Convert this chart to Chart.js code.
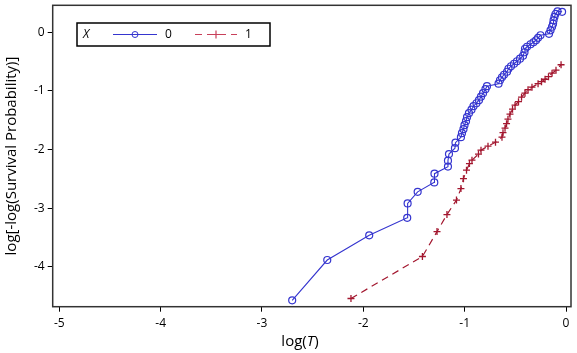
<!DOCTYPE html>
<html><head><meta charset="utf-8">
<script src="https://cdn.jsdelivr.net/npm/chart.js@4/dist/chart.umd.min.js"></script>
<style>html,body{margin:0;padding:0;background:#fff}#wrap{width:577px;height:353px}</style>
</head><body><div id="wrap"><canvas id="c" width="577" height="353"></canvas></div>
<script>
const legendTitle = 'X';
const seriesLabels = ['0', '1'];
const xTicks = [-5, -4, -3, -2, -1, 0];
const yTicks = [-4, -3, -2, -1, 0];
const yTitle = 'log[-log(Survival Probability)]';

const group0LogT = [-2.702,-2.356,-1.942,-1.567,-1.563,-1.464,-1.300,-1.298,-1.165,-1.165,-1.155,-1.096,-1.091,-1.037,-1.027,-1.012,-1.002,-0.987,-0.977,-0.958,-0.933,-0.913,-0.884,-0.859,-0.839,-0.819,-0.795,-0.780,-0.666,-0.652,-0.632,-0.612,-0.582,-0.568,-0.543,-0.513,-0.484,-0.454,-0.424,-0.410,-0.405,-0.385,-0.350,-0.321,-0.296,-0.276,-0.252,-0.168,-0.153,-0.138,-0.128,-0.123,-0.114,-0.104,-0.084,-0.039];
const group0LogLogS = [-4.571,-3.884,-3.463,-3.164,-2.918,-2.721,-2.560,-2.411,-2.291,-2.189,-2.078,-1.976,-1.882,-1.789,-1.721,-1.652,-1.584,-1.516,-1.448,-1.380,-1.320,-1.261,-1.210,-1.158,-1.099,-1.039,-0.971,-0.920,-0.877,-0.818,-0.767,-0.724,-0.673,-0.622,-0.579,-0.537,-0.494,-0.451,-0.400,-0.341,-0.281,-0.247,-0.204,-0.170,-0.136,-0.094,-0.051,-0.026,0.034,0.094,0.145,0.204,0.264,0.315,0.358,0.349];

const group1LogT = [-2.122,-1.417,-1.273,-1.175,-1.081,-1.037,-1.012,-0.982,-0.953,-0.928,-0.864,-0.839,-0.770,-0.696,-0.632,-0.622,-0.602,-0.587,-0.573,-0.553,-0.528,-0.503,-0.469,-0.439,-0.405,-0.375,-0.336,-0.276,-0.242,-0.207,-0.173,-0.138,-0.099,-0.049];
const group1LogLogS = [-4.540,-3.824,-3.399,-3.109,-2.862,-2.666,-2.496,-2.351,-2.240,-2.181,-2.078,-2.010,-1.942,-1.874,-1.789,-1.712,-1.635,-1.559,-1.482,-1.397,-1.312,-1.244,-1.184,-1.107,-1.039,-0.980,-0.937,-0.877,-0.843,-0.801,-0.758,-0.698,-0.647,-0.554];

const BLUE = '#3535cf';
const RED = '#a3172f';
const FONT = '"Open Sans", "Liberation Sans", sans-serif';

function pts(xs, ys) { return xs.map((x, i) => ({x: x, y: ys[i]})); }

const framePlugin = {
  id: 'frame',
  afterDatasetsDraw(chart) {
    const a = chart.chartArea, ctx = chart.ctx;
    ctx.save();
    ctx.strokeStyle = '#333';
    ctx.lineWidth = 1.5;
    ctx.strokeRect(a.left, a.top, a.right - a.left, a.bottom - a.top);
    ctx.restore();
  }
};

const legendPlugin = {
  id: 'customLegend',
  afterDraw(chart) {
    const ctx = chart.ctx;
    const ds = chart.data.datasets;
    const y = 34.5;
    ctx.save();
    ctx.fillStyle = '#fff';
    ctx.fillRect(77, 23, 193, 23);
    ctx.strokeStyle = '#000';
    ctx.lineWidth = 1.5;
    ctx.strokeRect(77, 23, 193, 23);
    ctx.fillStyle = '#000';
    ctx.textBaseline = 'middle';
    ctx.font = 'italic 12px ' + FONT;
    ctx.fillText(legendTitle, 83, y + 0.5);
    ctx.strokeStyle = ds[0].borderColor; ctx.lineWidth = 1;
    ctx.beginPath(); ctx.moveTo(113, y); ctx.lineTo(157, y); ctx.stroke();
    ctx.beginPath(); ctx.arc(135, y, 3, 0, Math.PI * 2); ctx.stroke();
    ctx.font = '12px ' + FONT; ctx.fillStyle = '#000';
    ctx.fillText(ds[0].label, 165, y + 0.5);
    ctx.strokeStyle = '#c8405a'; ctx.lineWidth = 1.2;
    ctx.setLineDash([7, 5]);
    ctx.beginPath(); ctx.moveTo(195, y); ctx.lineTo(237, y); ctx.stroke();
    ctx.setLineDash([]);
    ctx.beginPath(); ctx.moveTo(212, y); ctx.lineTo(220, y); ctx.moveTo(216, y - 4); ctx.lineTo(216, y + 4); ctx.stroke();
    ctx.fillText(ds[1].label, 245, y + 0.5);
    ctx.restore();
  }
};

const xTitlePlugin = {
  id: 'xTitle',
  afterDraw(chart) {
    const ctx = chart.ctx;
    const parts = [['log(', ''], ['T', 'italic '], [')', '']];
    ctx.save();
    ctx.fillStyle = '#000';
    ctx.textBaseline = 'middle';
    let w = 0;
    parts.forEach(p => { ctx.font = p[1] + '15px ' + FONT; w += ctx.measureText(p[0]).width; });
    let x = 300 - w / 2;
    parts.forEach(p => { ctx.font = p[1] + '15px ' + FONT; ctx.fillText(p[0], x, 342); x += ctx.measureText(p[0]).width; });
    ctx.restore();
  }
};

new Chart(document.getElementById('c'), {
  type: 'scatter',
  data: {
    datasets: [
      {
        label: seriesLabels[0],
        data: pts(group0LogT, group0LogLogS),
        showLine: true,
        borderColor: BLUE,
        backgroundColor: 'rgba(0,0,0,0)',
        borderWidth: 1.1,
        pointStyle: 'circle',
        pointRadius: 3.5,
        pointBorderWidth: 1.2,
        pointBorderColor: BLUE,
        pointBackgroundColor: 'rgba(0,0,0,0)'
      },
      {
        label: seriesLabels[1],
        data: pts(group1LogT, group1LogLogS),
        showLine: true,
        borderColor: RED,
        backgroundColor: RED,
        borderWidth: 1.2,
        borderDash: [7, 5],
        pointStyle: 'cross',
        pointRadius: 3.5,
        pointBorderWidth: 1.3,
        pointBorderColor: RED
      }
    ]
  },
  options: {
    responsive: false,
    animation: false,
    devicePixelRatio: 1,
    layout: { padding: { left: 0, top: 5, right: 6, bottom: 0 } },
    plugins: { legend: { display: false }, tooltip: { enabled: false } },
    scales: {
      x: {
        type: 'linear',
        min: -5.065,
        max: 0.049,
        afterFit: s => { s.height = 46.3; s.paddingLeft = 0; s.paddingRight = 0; },
        afterBuildTicks: s => { s.ticks = xTicks.map(v => ({value: v})); },
        grid: { drawOnChartArea: false, drawTicks: true, tickLength: 5, color: '#000', tickColor: '#000', lineWidth: 1 },
        border: { display: false },
        ticks: { color: '#000', font: { family: FONT, size: 12 }, padding: 5, maxRotation: 0 },
        title: { display: false }
      },
      y: {
        type: 'linear',
        min: -4.68,
        max: 0.46,
        afterFit: s => { s.width = 52.7; s.paddingTop = 0; s.paddingBottom = 0; },
        afterBuildTicks: s => { s.ticks = yTicks.map(v => ({value: v})); },
        grid: { drawOnChartArea: false, drawTicks: true, tickLength: 5, color: '#000', tickColor: '#000', lineWidth: 1 },
        border: { display: false },
        ticks: { color: '#000', font: { family: FONT, size: 12 }, padding: 3 },
        title: { display: true, text: yTitle, color: '#000', font: { family: FONT, size: 15 }, padding: { top: 3, bottom: 3 } }
      }
    }
  },
  plugins: [framePlugin, legendPlugin, xTitlePlugin]
});
</script>
</body></html>
